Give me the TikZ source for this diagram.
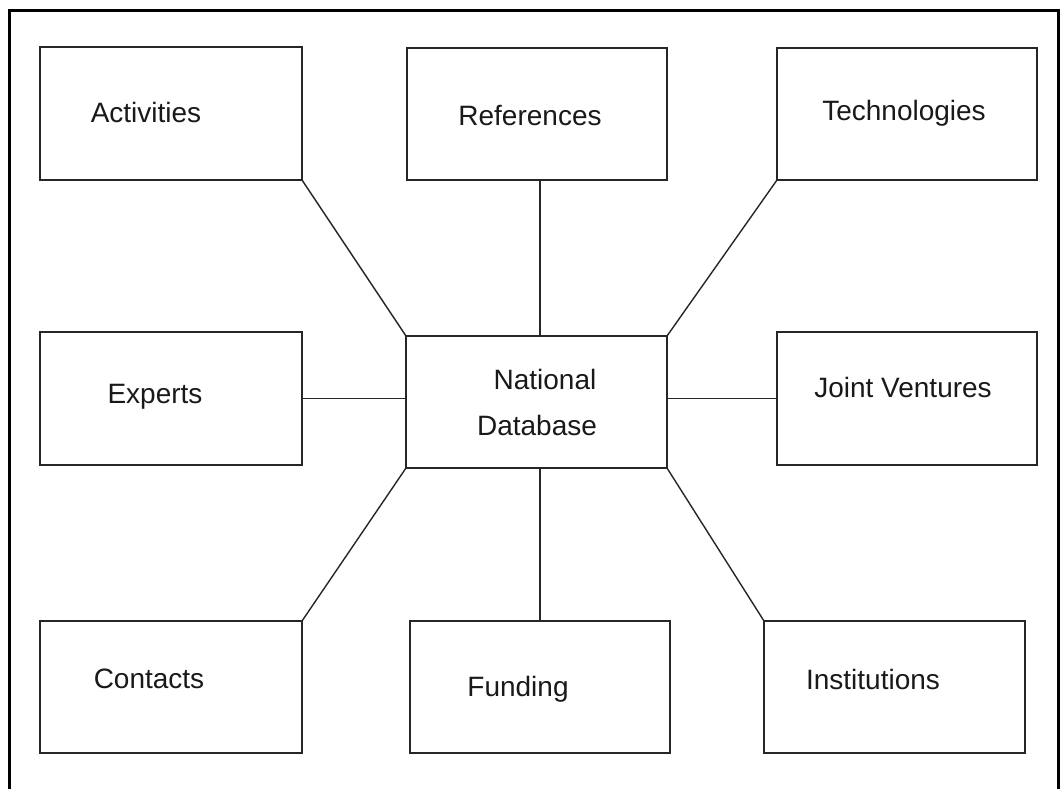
\documentclass[tikz,border=0pt]{standalone}
\usepackage{fontspec}
\setmainfont{Liberation Sans}
\begin{document}
\begin{tikzpicture}[x=1pt,y=-1pt,
  box/.style={draw=black!85, line width=2pt, inner sep=0pt, outer sep=0pt, rectangle},
  lbl/.style={anchor=base, inner sep=0pt, font=\fontsize{28}{32}\selectfont, text=black!90},
  link/.style={draw=black!85, line width=1.4pt},
  frame/.style={draw=black, line width=3pt}]
\useasboundingbox (0,0) rectangle (1063,788);

% outer frame, open at the bottom
\draw[frame] (9,800) -- (9,10) -- (1058,10) -- (1058,800);

% boxes
\node[box, minimum width=262pt, minimum height=133pt] (act)  at (171,113.5) {};
\node[box, minimum width=260pt, minimum height=132pt] (ref)  at (537,114) {};
\node[box, minimum width=260pt, minimum height=132pt] (tech) at (907,114) {};
\node[box, minimum width=262pt, minimum height=133pt] (exp)  at (171,398.5) {};
\node[box, minimum width=261pt, minimum height=132pt] (ctr)  at (536.5,402) {};
\node[box, minimum width=260pt, minimum height=133pt] (jv)   at (907,398.5) {};
\node[box, minimum width=262pt, minimum height=132pt] (cont) at (171,687) {};
\node[box, minimum width=260pt, minimum height=132pt] (fund) at (540,687) {};
\node[box, minimum width=261pt, minimum height=132pt] (inst) at (894.5,687) {};

% labels
\node[lbl] (tact)  at (146,122) {Activities};
\node[lbl] (tref)  at (530,125) {References};
\node[lbl] (ttech) at (904,120) {Technologies};
\node[lbl] (texp)  at (155,403) {Experts};
\node[lbl] (tctr1) at (545,389) {National};
\node[lbl] (tctr2) at (537,435) {Database};
\node[lbl] (tjv)   at (903,397) {Joint Ventures};
\node[lbl] (tcont) at (149,688) {Contacts};
\node[lbl] (tfund) at (518,696) {Funding};
\node[lbl] (tinst) at (873,689) {Institutions};

% connectors
\draw[link] (act.south east) -- (ctr.north west);
\draw[link] (fund.north |- ref.south) -- (fund.north |- ctr.north);
\draw[link] (tech.south west) -- (ctr.north east);
\draw[link] (exp.east) -- (ctr.west |- exp.east);
\draw[link] (jv.west) -- (ctr.east |- jv.west);
\draw[link] (cont.north east) -- (ctr.south west);
\draw[link] (fund.north) -- (fund.north |- ctr.south);
\draw[link] (inst.north west) -- (ctr.south east);
\end{tikzpicture}
\end{document}
